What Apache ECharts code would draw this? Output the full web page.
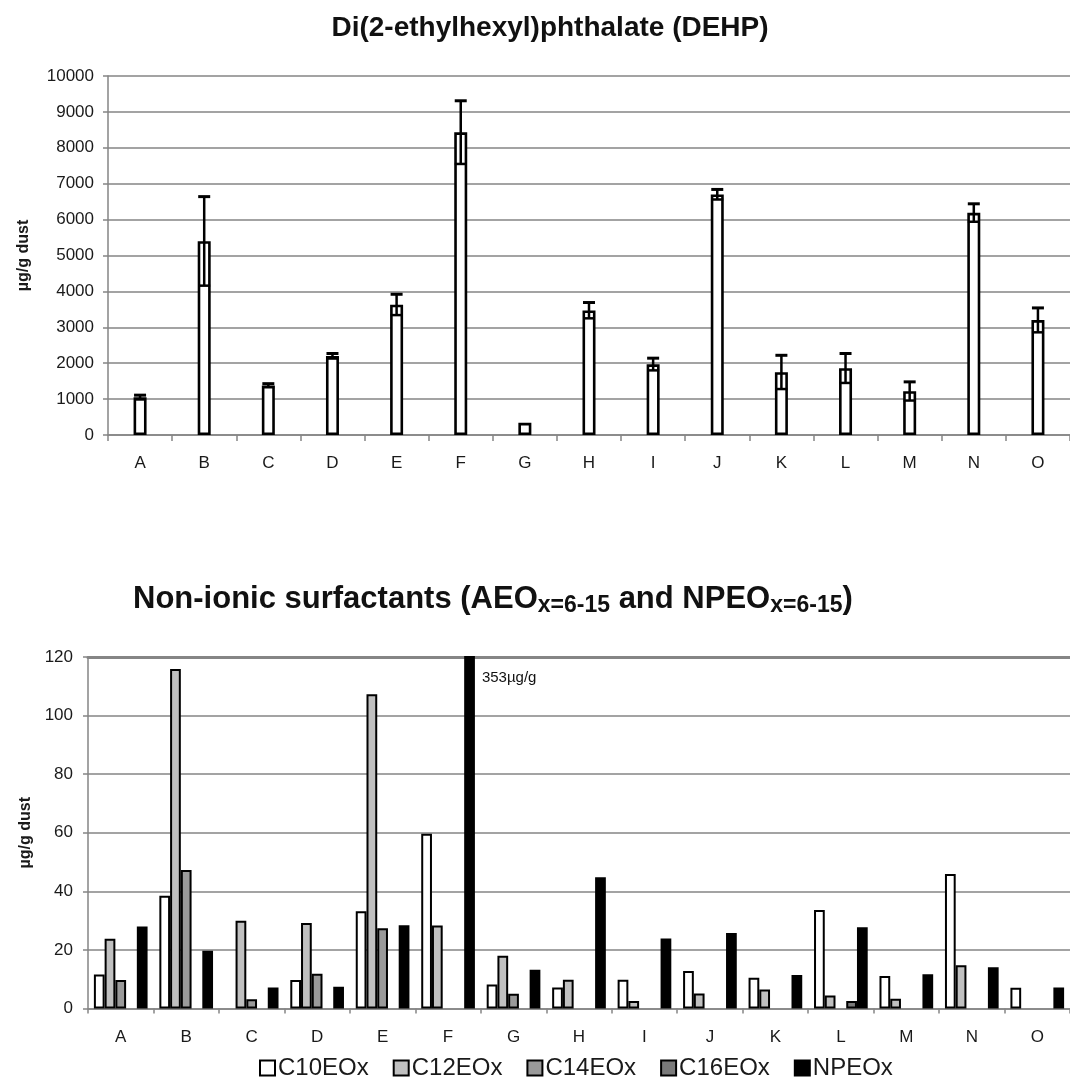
<!DOCTYPE html>
<html>
<head>
<meta charset="utf-8">
<title>DEHP and non-ionic surfactants in dust</title>
<script src="https://cdn.jsdelivr.net/npm/echarts@6/dist/echarts.min.js"></script>
<style>
    html, body { margin: 0; padding: 0; background: #fff; }
    #main { width: 1070px; height: 1085px; }
</style>
</head>
<body>
<div id="main"></div>
<script>
// sites A..O
const categories = ['A', 'B', 'C', 'D', 'E', 'F', 'G', 'H', 'I', 'J', 'K', 'L', 'M', 'N', 'O']

// DEHP, µg/g dust (mean and error)
const dehpMean = [1050, 5400, 1380, 2200, 3630, 8430, 340, 3470, 1970, 6700, 1750, 1860, 1220, 6190, 3200]
const dehpErr  = [60, 1240, 50, 70, 290, 880, 0, 220, 170, 140, 470, 410, 260, 250, 340]
const dehpTicks = [0, 1000, 2000, 3000, 4000, 5000, 6000, 7000, 8000, 9000, 10000]

// non-ionic surfactants, µg/g dust (null = not drawn)
const c10 = [11.6, 38.5, null, 9.7, 33.2, 59.7, 8.2, 7.2, 9.8, 12.8, 10.5, 33.6, 11.1, 45.9, 7.1]
const c12 = [23.8, 115.9, 30.0, 29.2, 107.3, 28.3, 18.0, 9.8, 2.6, 5.1, 6.5, 4.4, 3.3, 14.8, null]
const c14 = [9.7, 47.3, 3.2, 11.9, 27.4, null, 5.0, null, null, null, null, null, null, null, null]
const c16 = [null, null, null, null, null, null, null, null, null, null, null, 2.6, null, null, null]
const npeo = [28.0, 19.7, 7.2, 7.4, 28.4, 353, 13.2, 44.8, 23.9, 25.8, 11.4, 27.7, 11.7, 14.1, 7.2]
const surfTicks = [0, 20, 40, 60, 80, 100, 120]

const FONT = '"Liberation Sans", Arial, sans-serif'
const GRID_COLOR = '#858585'
const TEXT_COLOR = '#1a1a1a'

const chart = echarts.init(document.getElementById('main'))

// error bar points built from mean / err
const errData = []
dehpMean.forEach((m, i) => {
    if (dehpErr[i] > 0) errData.push([i, m - dehpErr[i], m + dehpErr[i]])
})

function renderErr(params, api) {
    const x = api.value(0)
    const lo = api.coord([x, api.value(1)])
    const hi = api.coord([x, api.value(2)])
    const half = 6
    const st = { stroke: '#000', lineWidth: 2.5 }
    return {
        type: 'group',
        children: [
            { type: 'line', shape: { x1: hi[0], y1: hi[1], x2: lo[0], y2: lo[1] }, style: st },
            { type: 'line', shape: { x1: hi[0] - half, y1: hi[1], x2: hi[0] + half, y2: hi[1] }, style: { stroke: '#000', lineWidth: 3 } },
            { type: 'line', shape: { x1: lo[0] - half, y1: lo[1], x2: lo[0] + half, y2: lo[1] }, style: st }
        ]
    }
}

function surfSeries(name, data, color, extra) {
    return Object.assign({
        name: name,
        type: 'bar',
        xAxisIndex: 1,
        yAxisIndex: 1,
        data: data,
        barGap: '0%',
        barCategoryGap: '18%',
        itemStyle: { color: color, borderColor: '#000', borderWidth: 2 }
    }, extra || {})
}

const yAxisBase = {
    type: 'value',
    axisLine: { show: true, lineStyle: { color: GRID_COLOR, width: 1.5 } },
    axisTick: { show: true, length: 5, lineStyle: { color: GRID_COLOR, width: 1.5 } },
    splitLine: { lineStyle: { color: GRID_COLOR, width: 1.5 } },
    nameLocation: 'middle',
    nameRotate: 90,
    nameTextStyle: { fontFamily: FONT, fontWeight: 'bold', fontSize: 16, color: TEXT_COLOR }
}

const xAxisBase = {
    type: 'category',
    data: categories,
    axisLine: { lineStyle: { color: GRID_COLOR, width: 1.5 } },
    axisTick: { show: true, length: 6, lineStyle: { color: GRID_COLOR, width: 1.5 } },
    axisLabel: { fontFamily: FONT, fontSize: 17, color: TEXT_COLOR, margin: 20 }
}

let option = {
    backgroundColor: '#fff',
    animation: false,
    title: [
        {
            text: 'Di(2-ethylhexyl)phthalate (DEHP)',
            left: 550,
            textAlign: 'center',
            top: 14,
            padding: 0,
            textStyle: { fontFamily: FONT, fontWeight: 'bold', fontSize: 28, color: '#111' }
        },
        {
            text: '{m|Non-ionic surfactants (AEO}{s|x=6-15}{m| and NPEO}{s|x=6-15}{m|)}',
            left: 133,
            top: 581,
            padding: 0,
            textStyle: {
                rich: {
                    m: { fontFamily: FONT, fontWeight: 'bold', fontSize: 31, lineHeight: 36, color: '#111' },
                    s: { fontFamily: FONT, fontWeight: 'bold', fontSize: 23, lineHeight: 20, verticalAlign: 'bottom', color: '#111' }
                }
            }
        }
    ],
    legend: {
        data: ['C10EOx', 'C12EOx', 'C14EOx', 'C16EOx', 'NPEOx'],
        left: 254,
        top: 1051,
        icon: 'rect',
        itemWidth: 15,
        itemHeight: 15,
        itemGap: 24,
        textStyle: { fontFamily: FONT, fontSize: 24, color: TEXT_COLOR, padding: [0, 0, 0, -2] }
    },
    grid: [
        { left: 108, right: -4, top: 76, bottom: 650 },
        { left: 88, right: -14, top: 657, bottom: 76.5 }
    ],
    xAxis: [
        Object.assign({}, xAxisBase, { gridIndex: 0 }),
        Object.assign({}, xAxisBase, {
            gridIndex: 1,
            axisTick: { show: true, length: 5, lineStyle: { color: GRID_COLOR, width: 1.5 } }
        }),
        // heavier line across the top of the surfactant plot
        {
            type: 'category', gridIndex: 1, position: 'top', data: categories,
            axisLine: { show: true, lineStyle: { color: GRID_COLOR, width: 3 } },
            axisTick: { show: false }, axisLabel: { show: false }
        }
    ],
    yAxis: [
        Object.assign({}, yAxisBase, {
            gridIndex: 0,
            min: dehpTicks[0],
            max: dehpTicks[dehpTicks.length - 1],
            interval: dehpTicks[1] - dehpTicks[0],
            name: 'µg/g dust',
            nameGap: 76,
            axisLabel: { fontFamily: FONT, fontSize: 17, color: TEXT_COLOR, margin: 14, formatter: v => String(v) }
        }),
        Object.assign({}, yAxisBase, {
            gridIndex: 1,
            min: surfTicks[0],
            max: surfTicks[surfTicks.length - 1],
            interval: surfTicks[1] - surfTicks[0],
            name: 'µg/g dust',
            nameGap: 54,
            axisLabel: { fontFamily: FONT, fontSize: 17, color: TEXT_COLOR, margin: 15, formatter: v => String(v) }
        })
    ],
    series: [
        {
            name: 'DEHP',
            type: 'bar',
            xAxisIndex: 0,
            yAxisIndex: 0,
            data: dehpMean,
            barWidth: 13,
            itemStyle: { color: '#fff', borderColor: '#000', borderWidth: 2.6 }
        },
        {
            name: 'DEHP error',
            type: 'custom',
            xAxisIndex: 0,
            yAxisIndex: 0,
            data: errData,
            renderItem: renderErr,
            z: 5
        },
        surfSeries('C10EOx', c10, '#ffffff'),
        surfSeries('C12EOx', c12, '#c0c0c0'),
        surfSeries('C14EOx', c14, '#9a9a9a'),
        surfSeries('C16EOx', c16, '#7a7a7a'),
        surfSeries('NPEOx', npeo.map((v, i) => {
            if (v > surfTicks[surfTicks.length - 1]) {
                // off-scale bar, value written beside it
                return {
                    value: v,
                    label: {
                        show: true,
                        position: ['100%', 0],
                        offset: [7, 22],
                        align: 'left',
                        verticalAlign: 'middle',
                        formatter: '{c}µg/g',
                        fontFamily: FONT,
                        fontSize: 15,
                        color: '#111'
                    }
                }
            }
            return v
        }), '#000000', { clip: true })
    ]
}

chart.setOption(option)
</script>
</body>
</html>
